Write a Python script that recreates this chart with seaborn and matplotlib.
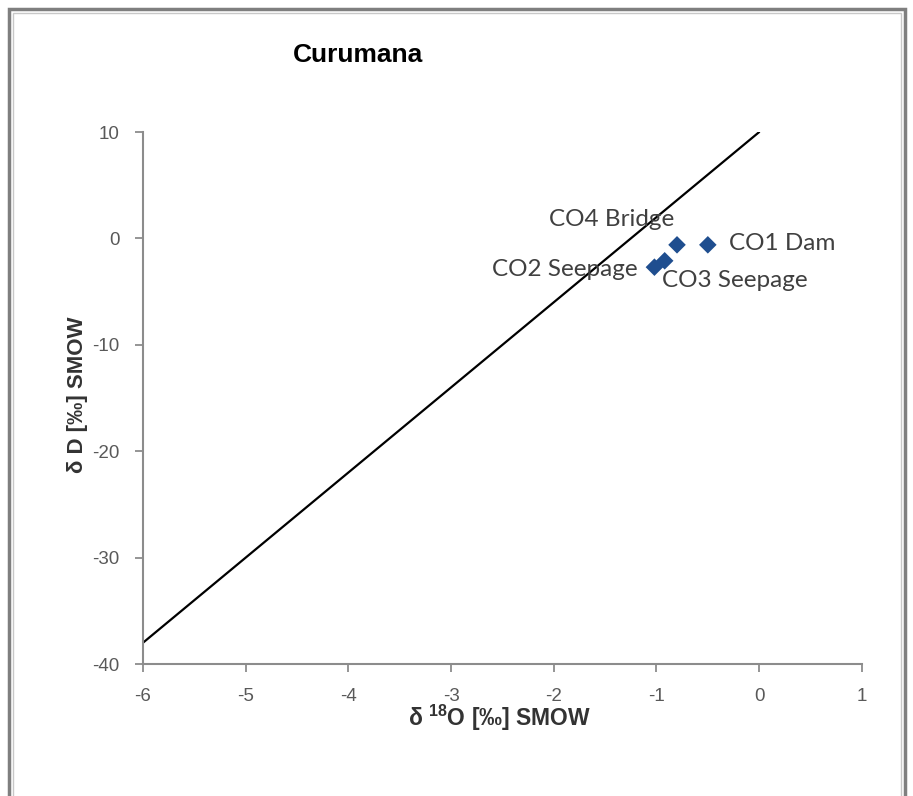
import matplotlib
matplotlib.use("Agg")
import matplotlib.pyplot as plt
from matplotlib.patches import Rectangle
import seaborn as sns
import pandas as pd

# ── Data ────────────────────────────────────────────────────────────────────
samples = ["CO1 Dam", "CO4 Bridge", "CO3 Seepage", "CO2 Seepage"]
d18o    = [-0.50, -0.80, -0.92, -1.02]
dD      = [-0.6, -0.6, -2.1, -2.7]

# global meteoric water line end points
gmwl_x = [-6, 0]
gmwl_y = [-38, 10]

x_ticks = [-6, -5, -4, -3, -2, -1, 0, 1]
y_ticks = [-40, -30, -20, -10, 0, 10]

# label offsets (points) and alignment
label_pos = {
    "CO1 Dam":     ((15, 1),   "left"),
    "CO4 Bridge":  ((-2, 18),  "right"),
    "CO3 Seepage": ((-2, -14), "left"),
    "CO2 Seepage": ((-12, -2), "right"),
}

# ── Style ───────────────────────────────────────────────────────────────────
sns.set_style("white")
plt.rcParams["font.family"] = ["Liberation Sans", "DejaVu Sans"]
plt.rcParams["axes.unicode_minus"] = False
plt.rcParams["mathtext.fontset"] = "custom"
plt.rcParams["mathtext.rm"] = "Liberation Sans"
plt.rcParams["mathtext.bf"] = "Liberation Sans:bold"

df = pd.DataFrame({"sample": samples, "d18O": d18o, "dD": dD})

fig = plt.figure(figsize=(9.13, 7.96), dpi=100)
ax = fig.add_axes([0.1566, 0.1658, 0.7874, 0.6683])

ax.plot(gmwl_x, gmwl_y, color="black", lw=1.6)
sns.scatterplot(data=df, x="d18O", y="dD", marker="D", s=80,
                color="#1F4E8F", edgecolor="none", ax=ax, zorder=3)

for name, x, y in zip(samples, d18o, dD):
    off, ha = label_pos[name]
    ax.annotate(name, (x, y), xytext=off, textcoords="offset points",
                ha=ha, va="center", fontsize=17.5, color="#404040",
                family=["Lato", "DejaVu Sans"])

ax.set_xlim(-6, 1)
ax.set_ylim(-40, 10)
ax.set_xticks(x_ticks)
ax.set_yticks(y_ticks)
for s in ["top", "right"]:
    ax.spines[s].set_visible(False)
for s in ["left", "bottom"]:
    ax.spines[s].set_color("#8c8c8c")
    ax.spines[s].set_linewidth(1.5)
ax.tick_params(bottom=True, left=True, direction="out", length=6, width=1.3,
               color="#8c8c8c", labelsize=13.5, labelcolor="#595959", pad=11)
ax.set_xlabel("")
ax.set_ylabel("")

fig.text(500/913, 1 - 718/796, r"δ $^{\mathbf{18}}$O [‰] SMOW", ha="center", va="center",
         fontsize=16.5, fontweight="bold", color="#333333")
fig.text(77/913, 1 - 395/796, "δ D [‰] SMOW", ha="center", va="center",
         rotation=90, fontsize=16, fontweight="bold", color="#333333")
fig.text(358/913, 1 - 55/796, "Curumana", ha="center", va="center",
         fontsize=19, fontweight="bold", color="black")

# outer frame
fig.patches.append(Rectangle((9/913, -0.05), 896/913, 1.05 - 9/796,
                             transform=fig.transFigure, fill=False,
                             edgecolor="#7f7f7f", lw=2.5))
fig.patches.append(Rectangle((13/913, -0.05), 888/913, 1.05 - 13/796,
                             transform=fig.transFigure, fill=False,
                             edgecolor="#c8c8c8", lw=1))

fig.savefig("out.png", dpi=100, facecolor="white")
